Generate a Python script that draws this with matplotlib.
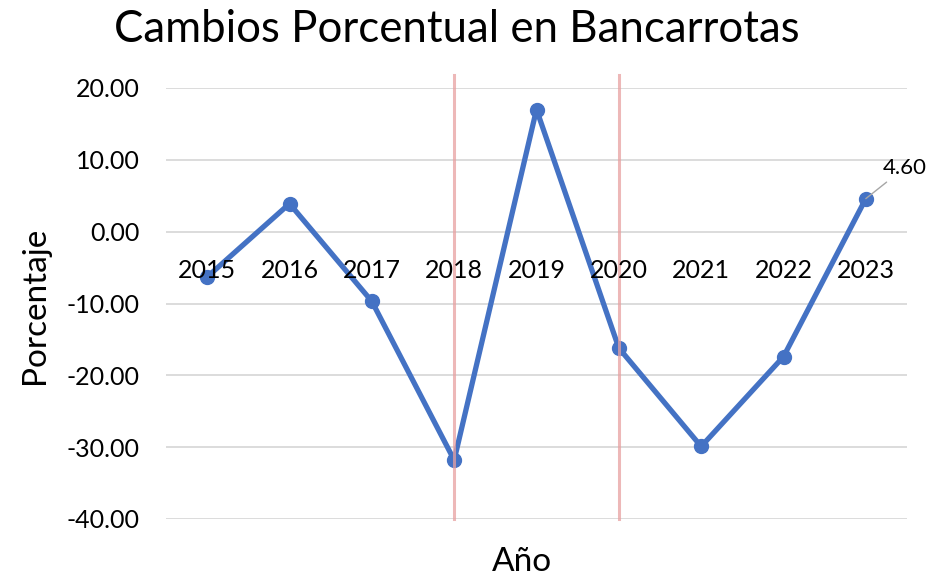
import matplotlib.pyplot as plt

plt.rcParams['font.family'] = ['Lato', 'DejaVu Sans']

# datos
anios = ['2015', '2016', '2017', '2018', '2019', '2020', '2021', '2022', '2023']
cambios = [-6.3, 3.9, -9.7, -31.8, 17.0, -16.2, -29.9, -17.4, 4.60]
marcas = ['2018', '2020']
y_ticks = [-40, -30, -20, -10, 0, 10, 20]

fig = plt.figure(figsize=(9.38, 5.80), dpi=100)
ax = fig.add_axes([166 / 938, 1 - 519 / 580, (907 - 166) / 938, (519 - 88) / 580])

x = list(range(len(anios)))
ax.plot(x, cambios, color='#4472C4', lw=3.8, marker='o', ms=10, zorder=3,
        solid_joinstyle='round')

# lineas verticales
for m in marcas:
    ax.axvline(anios.index(m), ymin=0, ymax=1.03, color='#E8A0A0', lw=2.2,
               alpha=0.75, zorder=4, clip_on=False)

ax.set_xlim(-0.5, len(anios) - 0.5)
ax.set_ylim(-40, 20)
ax.set_yticks(y_ticks)
ax.set_yticklabels([f'{v:.2f}' for v in y_ticks], fontsize=18)
ax.tick_params(axis='y', length=0, pad=19)
ax.set_xticks([])
ax.grid(axis='y', color='#D9D9D9', lw=1.3)
ax.set_axisbelow(True)
for s in ax.spines.values():
    s.set_visible(False)

# etiquetas de categoria junto al eje (y = 0)
for i, a in enumerate(anios):
    ax.annotate(a, (i, 0), xytext=(0, -39), textcoords='offset pixels',
                ha='center', va='center', fontsize=18, zorder=5)

# etiqueta del ultimo punto
ultimo = len(anios) - 1
ax.annotate(f'{cambios[-1]:.2f}', (ultimo, cambios[-1]), xytext=(39, 31),
            textcoords='offset pixels', ha='center', va='center', fontsize=16,
            annotation_clip=False,
            arrowprops=dict(arrowstyle='-', color='#A6A6A6', lw=1,
                            shrinkA=2, shrinkB=0))

fig.text(457 / 938, 1 - 30 / 580, 'Cambios Porcentual en Bancarrotas',
         ha='center', va='center', fontsize=31.5)
fig.text(35 / 938, 1 - 305 / 580, 'Porcentaje', rotation=90,
         ha='center', va='center', fontsize=24)
fig.text(522 / 938, 1 - 562 / 580, 'Año', ha='center', va='center', fontsize=24)

fig.savefig('out.png', dpi=100)
